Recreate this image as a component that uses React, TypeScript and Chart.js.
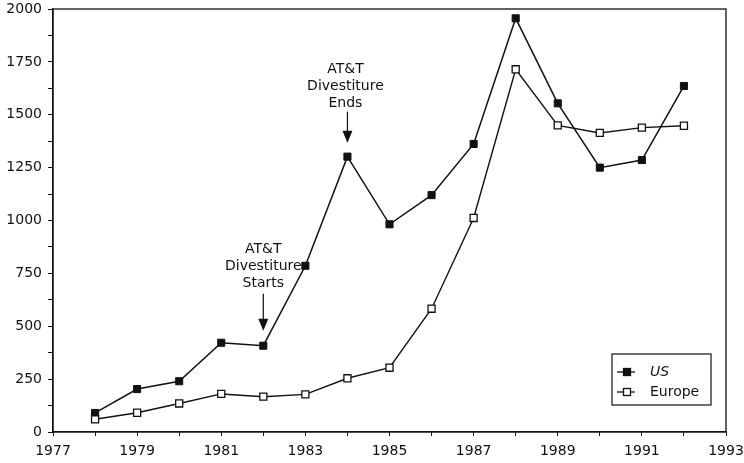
import React, { useEffect, useRef } from "react";
import { Chart, registerables } from "chart.js";

Chart.register(...registerables);

const years = [1978, 1979, 1980, 1981, 1982, 1983, 1984, 1985, 1986, 1987, 1988, 1989, 1990, 1991, 1992];
const usValues = [90, 203, 240, 422, 408, 786, 1302, 982, 1120, 1362, 1956, 1554, 1250, 1286, 1636];
const europeValues = [60, 91, 135, 180, 167, 178, 254, 304, 583, 1012, 1715, 1450, 1414, 1439, 1448];
const seriesNames = ["US", "Europe"];
const annotationYears = [1982, 1984];
const annotationTexts = [
  ["AT&T", "Divestiture", "Starts"],
  ["AT&T", "Divestiture", "Ends"],
];

const FONT = "'DejaVu Sans', sans-serif";
const INK = "#111";

const decorPlugin = {
  id: "decor",
  afterDatasetsDraw(chart: any) {
    const { ctx, chartArea, scales } = chart;
    const xs = scales.x;
    const ys = scales.y;
    ctx.save();
    // frame
    ctx.strokeStyle = INK;
    ctx.lineWidth = 1.3;
    ctx.strokeRect(chartArea.left, chartArea.top, chartArea.right - chartArea.left, chartArea.bottom - chartArea.top);

    // annotations
    const offsets = [
      { tipGap: 15, shaft: 37, textGap: 10 },
      { tipGap: 14, shaft: 31, textGap: 8 },
    ];
    ctx.font = `14px ${FONT}`;
    ctx.fillStyle = INK;
    ctx.textAlign = "center";
    ctx.textBaseline = "middle";
    annotationYears.forEach((yr, i) => {
      const idx = years.indexOf(yr);
      const px = xs.getPixelForValue(yr);
      const py = ys.getPixelForValue(usValues[idx]);
      const o = offsets[i];
      const tip = py - o.tipGap;
      const top = tip - o.shaft;
      ctx.strokeStyle = INK;
      ctx.lineWidth = 1.2;
      ctx.beginPath();
      ctx.moveTo(px, top);
      ctx.lineTo(px, tip - 8);
      ctx.stroke();
      ctx.beginPath();
      ctx.moveTo(px - 5, tip - 12);
      ctx.lineTo(px + 5, tip - 12);
      ctx.lineTo(px, tip);
      ctx.closePath();
      ctx.fill();
      const lines = annotationTexts[i];
      const lastY = top - o.textGap;
      lines.forEach((t, j) => {
        ctx.fillText(t, px - (i === 1 ? 2 : 0), lastY - (lines.length - 1 - j) * 17);
      });
    });

    // legend
    const lw = 99;
    const lh = 51;
    const lx = chartArea.right - 15 - lw;
    const ly = chartArea.bottom - 27 - lh;
    ctx.fillStyle = "#fff";
    ctx.fillRect(lx, ly, lw, lh);
    ctx.strokeStyle = INK;
    ctx.lineWidth = 1.2;
    ctx.strokeRect(lx, ly, lw, lh);
    const rows = [ly + 18, ly + 38];
    seriesNames.forEach((name, i) => {
      const cy = rows[i];
      ctx.strokeStyle = INK;
      ctx.lineWidth = 1.3;
      ctx.beginPath();
      ctx.moveTo(lx + 5, cy);
      ctx.lineTo(lx + 23, cy);
      ctx.stroke();
      ctx.fillStyle = i === 0 ? INK : "#fff";
      ctx.fillRect(lx + 11.5, cy - 3.5, 7, 7);
      ctx.strokeRect(lx + 11.5, cy - 3.5, 7, 7);
      ctx.fillStyle = INK;
      ctx.textAlign = "left";
      ctx.font = i === 0 ? `italic 14px ${FONT}` : `14px ${FONT}`;
      ctx.fillText(name, lx + 38, cy);
    });
    ctx.restore();
  },
};

export default function App() {
  const ref = useRef<HTMLCanvasElement>(null);
  useEffect(() => {
    if (!ref.current) return;
    const chart = new Chart(ref.current, {
      type: "line",
      data: {
        datasets: [
          {
            label: seriesNames[1],
            data: years.map((x, i) => ({ x, y: europeValues[i] })),
            borderColor: INK,
            borderWidth: 1.4,
            pointStyle: "rect",
            pointRadius: 5,
            pointBackgroundColor: "#fff",
            pointBorderColor: INK,
            pointBorderWidth: 1.3,
            tension: 0,
          },
          {
            label: seriesNames[0],
            data: years.map((x, i) => ({ x, y: usValues[i] })),
            borderColor: INK,
            borderWidth: 1.5,
            pointStyle: "rect",
            pointRadius: 5,
            pointBackgroundColor: INK,
            pointBorderColor: INK,
            pointBorderWidth: 1,
            tension: 0,
          },
        ],
      },
      options: {
        responsive: false,
        animation: false,
        layout: { padding: { top: 9, right: 18, left: 0, bottom: 0 } },
        plugins: { legend: { display: false }, tooltip: { enabled: false } },
        scales: {
          x: {
            type: "linear",
            min: 1977,
            max: 1993,
            afterFit: (s: any) => {
              s.height = 31;
              s.paddingLeft = 0;
              s.paddingRight = 0;
            },
            ticks: {
              stepSize: 1,
              autoSkip: false,
              maxRotation: 0,
              padding: 7,
              color: INK,
              font: { family: FONT, size: 14 },
              callback: (v: any) => (Number(v) % 2 === 1 ? String(v) : ""),
            },
            grid: { drawOnChartArea: false, drawTicks: true, tickLength: 4, color: INK },
            border: { color: INK, width: 1.3 },
          },
          y: {
            min: 0,
            max: 2000,
            afterFit: (s: any) => {
              s.width = 53;
              s.paddingTop = 0;
              s.paddingBottom = 0;
            },
            ticks: {
              stepSize: 125,
              autoSkip: false,
              padding: 6,
              color: INK,
              font: { family: FONT, size: 14 },
              callback: (v: any) => (Number(v) % 250 === 0 ? String(v) : ""),
            },
            grid: { drawOnChartArea: false, drawTicks: true, tickLength: 5, color: INK },
            border: { color: INK, width: 1.3 },
          },
        },
      },
      plugins: [decorPlugin],
    } as any);
    return () => chart.destroy();
  }, []);
  return (
    <div style={{ position: "fixed", left: 0, top: 0, width: 744, height: 463, background: "#fff" }}>
      <canvas ref={ref} width={744} height={463} />
    </div>
  );
}
